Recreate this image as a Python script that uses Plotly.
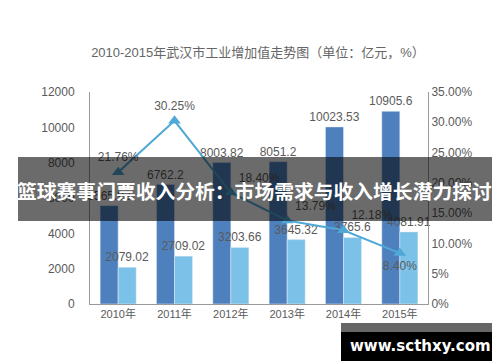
import plotly.graph_objects as go

years = ["2010年", "2011年", "2012年", "2013年", "2014年", "2015年"]
gdp = [5565.93, 6762.2, 8003.82, 8051.2, 10023.53, 10905.6]
industry = [2079.02, 2709.02, 3203.66, 3645.32, 3765.6, 4081.91]
growth = [21.76, 30.25, 18.40, 13.79, 12.18, 8.40]
left_ticks = [0, 2000, 4000, 6000, 8000, 10000, 12000]
right_ticks = [0, 5, 10, 15, 20, 25, 30, 35]
right_ticktext = ["0%", "5%", "10.00%", "15.00%", "20.00%", "25.00%", "30.00%", "35.00%"]

title = "2010-2015年武汉市工业增加值走势图（单位：亿元，%）"
banner = "篮球赛事门票收入分析：市场需求与收入增长潜力探讨"
watermark = "www.scthxy.com"

FONT = "Liberation Sans, Arial, Noto Sans CJK SC, sans-serif"
GRAY = "#5a5a5a"

fig = go.Figure()
fig.add_trace(go.Bar(
    x=years, y=gdp, marker_color="#4f80be",
    text=[str(v) for v in gdp], textposition="outside", constraintext="none",
    textfont=dict(size=12, color=GRAY), cliponaxis=False, name="gdp",
))
fig.add_trace(go.Bar(
    x=years, y=industry, marker_color="#7cc2e8",
    text=[str(v) for v in industry], textposition="outside", constraintext="none",
    textfont=dict(size=12, color=GRAY), cliponaxis=False, name="industry",
))
fig.add_trace(go.Scatter(
    x=years, y=growth, yaxis="y2", mode="lines+markers+text",
    line=dict(color="#4fa9d6", width=2),
    marker=dict(symbol="triangle-up", size=11, color="#4fa9d6"),
    text=[f"{v:.2f}%" for v in growth],
    textposition=["top center", "top center", "top right", "top right", "top right", "bottom center"],
    textfont=dict(size=12, color=GRAY), cliponaxis=False, name="growth",
))

fig.update_layout(
    width=500, height=362,
    margin=dict(l=82, r=80, t=84, b=66),
    paper_bgcolor="white", plot_bgcolor="white",
    font=dict(family=FONT, color=GRAY, size=12),
    showlegend=False,
    barmode="group", bargap=0.36, bargroupgap=0,
    title=dict(text=title, x=0.5, xanchor="center", y=0.878, yanchor="middle",
               font=dict(size=13, color="#666666")),
    xaxis=dict(showline=True, linecolor="#9a9a9a", linewidth=1, ticks="",
               tickfont=dict(size=11, color=GRAY), showgrid=False),
    yaxis=dict(range=[0, 12000], tickvals=left_ticks, tickformat="d", showline=True,
               linecolor="#9a9a9a", linewidth=1, showgrid=False, zeroline=False, ticks="",
               ticklabelstandoff=12, tickfont=dict(size=12, color=GRAY)),
    yaxis2=dict(range=[0, 35], overlaying="y", side="right", tickvals=right_ticks,
                ticktext=right_ticktext, showline=True, linecolor="#9a9a9a", linewidth=1,
                showgrid=False, zeroline=False, ticks="", ticklabelstandoff=0,
                tickfont=dict(size=12, color=GRAY)),
)

# overlay banner
fig.add_shape(type="rect", xref="paper", yref="paper",
              x0=-0.213, x1=1.210, y0=0.3915, y1=0.693,
              fillcolor="rgba(0,0,0,0.58)", line_width=0, layer="above")
fig.add_annotation(xref="paper", yref="paper", x=0.486, y=0.535, text=f"<b>{banner}</b>",
                   showarrow=False, font=dict(family="Noto Sans CJK SC", size=19.8, color="white"),
                   xanchor="center", yanchor="middle")

# watermark
fig.add_shape(type="rect", xref="paper", yref="paper",
              x0=(333 - 82) / 338, x1=(491 - 82) / 338, y0=(296 - 324) / 212, y1=(296 - 315) / 212,
              fillcolor="#666666", line_width=0, layer="above")
fig.add_shape(type="rect", xref="paper", yref="paper",
              x0=(333 - 82) / 338, x1=(491 - 82) / 338, y0=(296 - 353) / 212, y1=(296 - 324) / 212,
              fillcolor="black", line_width=0, layer="above")
fig.add_annotation(xref="paper", yref="paper", x=(412 - 82) / 338, y=(296 - 338) / 212,
                   text=f"<b>{watermark}</b>", showarrow=False,
                   font=dict(family="DejaVu Sans", size=15, color="white"),
                   xanchor="center", yanchor="middle")

fig.write_html("out.html")
